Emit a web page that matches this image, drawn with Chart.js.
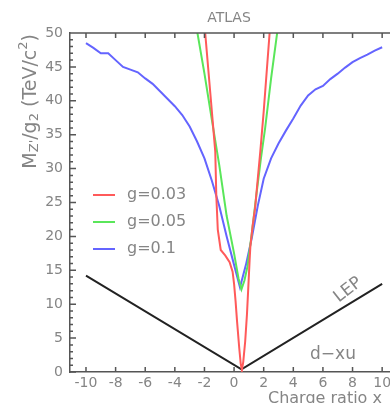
<!DOCTYPE html>
<html lang="en">
<head>
  <meta charset="UTF-8" />
  <title>ATLAS Z' reach vs charge ratio</title>
  <script src="https://cdn.jsdelivr.net/npm/chart.js"></script>
  <style>
    html, body { margin: 0; padding: 0; background: #fff; overflow: hidden; }
    #chart { display: block; }
  </style>
</head>
<body>
  <canvas id="chart" width="400" height="420"></canvas>

  <script>
    // tick values
    const xTicks = [-10, -8, -6, -4, -2, 0, 2, 4, 6, 8, 10];
    const yTicks = [0, 5, 10, 15, 20, 25, 30, 35, 40, 45, 50];

    // g = 0.03
    const redX = [-2.1, -1.95, -1.6, -1.27, -1.2, -1.1, -0.9, -0.6, -0.3, -0.1, 0, 0.1, 0.2, 0.35, 0.45, 0.53, 0.62, 0.75, 0.87, 0.95, 1.05, 1.1, 1.25, 1.43, 1.6, 1.77, 2.0, 2.4, 2.5];
    const redY = [52, 50, 41, 32.5, 26, 21, 18.0, 17.2, 16.2, 14.8, 13.0, 10.5, 7.5, 3.5, 1.2, 0.3, 1.5, 4.5, 8.5, 12, 16.5, 18.5, 21.5, 24.4, 28.5, 32.5, 38.4, 50, 52.5];

    // g = 0.05
    const greenX = [-2.6, -2, -1.5, -1, -0.5, 0, 0.3, 0.5, 0.7, 0.9, 1.2, 1.5, 1.8, 2.1, 2.5, 3.0];
    const greenY = [51.6, 44, 37.2, 30.5, 23, 17.5, 13.8, 12.2, 13.5, 15.5, 20.5, 26, 31.3, 36, 43.3, 51.5];

    // g = 0.1
    const blueX = [-10, -9.5, -9, -8.5, -8, -7.5, -7, -6.5, -6, -5.5, -5, -4.5, -4, -3.5, -3, -2.5, -2, -1.5, -1, -0.5, 0, 0.4, 0.8, 1.2, 1.6, 2, 2.5, 3, 3.5, 4, 4.5, 5, 5.5, 6, 6.5, 7, 7.5, 8, 8.5, 9, 9.5, 10];
    const blueY = [48.5, 47.8, 47.0, 47.0, 46.0, 45.0, 44.6, 44.2, 43.3, 42.5, 41.4, 40.3, 39.2, 37.9, 36.2, 34.0, 31.5, 28.2, 24.5, 20.0, 15.8, 12.5, 15.8, 19.8, 24.5, 28.5, 31.5, 33.7, 35.6, 37.4, 39.3, 40.8, 41.7, 42.2, 43.2, 44.0, 44.9, 45.7, 46.3, 46.8, 47.4, 47.9];

    // LEP limit
    const lepX = [-10, 0.5, 10];
    const lepY = [14.2, 0.4, 13.0];

    const TEXT = '#858585';
    const AXIS = '#555';
    const FONT = '"DejaVu Sans", sans-serif';

    const toPoints = (xs, ys) => xs.map((v, i) => ({ x: v, y: ys[i] }));

    const curve = (label, xs, ys, color, order) => ({
      label,
      data: toPoints(xs, ys),
      borderColor: color,
      backgroundColor: color,
      borderWidth: 2,
      pointRadius: 0,
      tension: 0,
      order
    });

    // Texte, Rahmen und Innen-Ticks
    const decorations = {
      id: 'decorations',
      afterDraw(chart) {
        const { ctx, chartArea: a } = chart;
        const x = chart.scales.x, y = chart.scales.y;
        ctx.save();

        ctx.strokeStyle = AXIS;
        ctx.lineWidth = 1.5;
        ctx.beginPath();
        ctx.moveTo(a.left, a.top);
        ctx.lineTo(a.right, a.top);
        xTicks.forEach(v => {
          const px = x.getPixelForValue(v);
          ctx.moveTo(px, a.bottom); ctx.lineTo(px, a.bottom - 5);
          ctx.moveTo(px, a.top); ctx.lineTo(px, a.top + 5);
        });
        for (let v = 0; v <= 50; v++) {
          const py = y.getPixelForValue(v);
          ctx.moveTo(a.left, py);
          ctx.lineTo(a.left + (v % 5 === 0 ? 6 : 3), py);
        }
        ctx.stroke();

        ctx.fillStyle = TEXT;
        ctx.textBaseline = 'middle';

        // title
        ctx.font = '14px ' + FONT;
        ctx.textAlign = 'center';
        ctx.fillText('ATLAS', 229, 18);

        // legend
        ctx.textAlign = 'left';
        ctx.font = '16px ' + FONT;
        chart.data.datasets.slice(0, 3).forEach((ds, i) => {
          const ly = 195 + i * 27;
          ctx.strokeStyle = ds.borderColor;
          ctx.lineWidth = 2;
          ctx.beginPath();
          ctx.moveTo(93, ly); ctx.lineTo(115, ly);
          ctx.stroke();
          ctx.fillText(ds.label, 127, ly);
        });

        // annotations
        ctx.font = '17px ' + FONT;
        ctx.textAlign = 'center';
        ctx.fillText('d\u2212xu', 333, 355);
        ctx.save();
        ctx.translate(348, 290);
        ctx.rotate(-38 * Math.PI / 180);
        ctx.fillText('LEP', 0, 0);
        ctx.restore();

        // x title (cut off at the bottom like in the original)
        ctx.textAlign = 'left';
        ctx.textBaseline = 'top';
        ctx.font = '16px ' + FONT;
        ctx.fillText('Charge ratio x', 268, 391);

        // y title with sub/superscripts
        const parts = [
          ['M', 19, 0], ["Z'", 13, 4], ['/g', 19, 0], ['2', 13, 4],
          [' (TeV/c', 19, 0], ['2', 13, -7], [')', 19, 0]
        ];
        let total = 0;
        parts.forEach(p => { ctx.font = p[1] + 'px ' + FONT; total += ctx.measureText(p[0]).width; });
        ctx.translate(31, 34 + total);
        ctx.rotate(-Math.PI / 2);
        ctx.textBaseline = 'middle';
        let cx = 0;
        parts.forEach(p => {
          ctx.font = p[1] + 'px ' + FONT;
          ctx.fillText(p[0], cx, p[2]);
          cx += ctx.measureText(p[0]).width;
        });

        ctx.restore();
      }
    };

    const chart = new Chart(document.getElementById('chart'), {
      type: 'line',
      data: {
        datasets: [
          curve('g=0.03', redX, redY, 'rgb(255, 90, 90)', 0),
          curve('g=0.05', greenX, greenY, 'rgb(90, 230, 90)', 1),
          curve('g=0.1', blueX, blueY, 'rgb(100, 100, 255)', 2),
          curve('LEP', lepX, lepY, '#222', 3)
        ]
      },
      options: {
        responsive: false,
        animation: false,
        layout: { padding: { top: 33, right: 6, left: 0, bottom: 0 } },
        plugins: {
          legend: { display: false },
          tooltip: { enabled: false }
        },
        scales: {
          x: {
            type: 'linear',
            min: -11.08,
            max: 10.8,
            afterFit: s => { s.height = 48; },
            afterBuildTicks: s => { s.ticks = xTicks.map(v => ({ value: v })); },
            grid: { display: false, drawTicks: false },
            border: { display: true, color: AXIS, width: 1.5 },
            ticks: { color: TEXT, font: { family: FONT, size: 14 }, padding: 3, maxRotation: 0, autoSkip: false }
          },
          y: {
            min: 0,
            max: 50,
            afterFit: s => { s.width = 70; },
            afterBuildTicks: s => { s.ticks = yTicks.map(v => ({ value: v })); },
            grid: { display: false, drawTicks: false },
            border: { display: true, color: AXIS, width: 1.5 },
            ticks: { color: TEXT, font: { family: FONT, size: 14 }, padding: 7, autoSkip: false }
          }
        }
      },
      plugins: [decorations]
    });
  </script>
</body>
</html>
